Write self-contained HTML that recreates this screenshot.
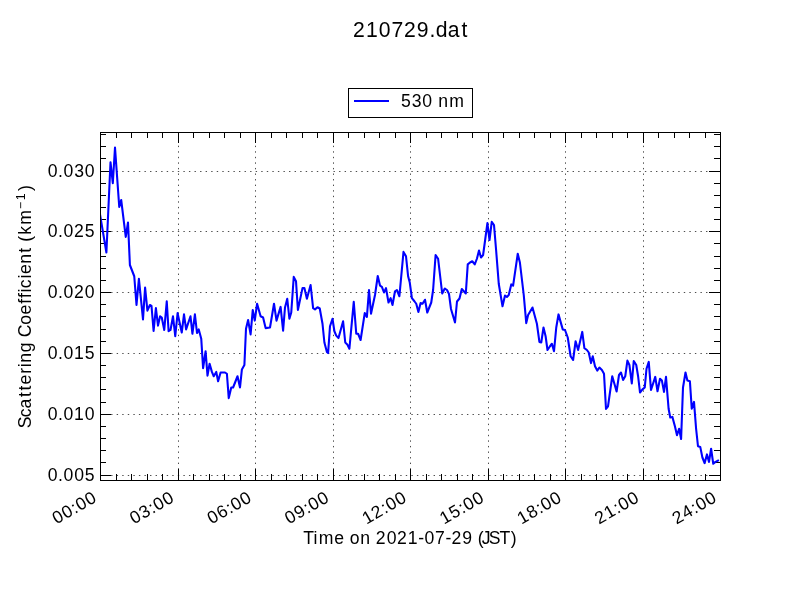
<!DOCTYPE html>
<html><head><meta charset="utf-8"><style>
html,body{margin:0;padding:0;background:#fff;width:800px;height:600px;overflow:hidden}
svg{display:block;will-change:transform}
text{font-family:"Liberation Sans", sans-serif;fill:#000}
</style></head><body>
<svg width="800" height="600" viewBox="0 0 800 600">
<rect x="0" y="0" width="800" height="600" fill="#fff"/>
<defs><clipPath id="ax"><rect x="100" y="132" width="621" height="349"/></clipPath></defs>

<path d="M178.5 480V132 M255.5 480V132 M333.5 480V132 M410.5 480V132 M488.5 480V132 M565.5 480V132 M643.5 480V132" stroke="#000" stroke-width="0.7" stroke-dasharray="1.39 4.17" stroke-dashoffset="0.7" fill="none"/>
<path d="M100 475.5H720 M100 414.5H720 M100 353.5H720 M100 292.5H720 M100 231.5H720 M100 171.5H720" stroke="#000" stroke-width="0.7" stroke-dasharray="1.39 4.17" fill="none"/>
<path d="M100.5 480V469 M100.5 132V143 M178.5 480V469 M178.5 132V143 M255.5 480V469 M255.5 132V143 M333.5 480V469 M333.5 132V143 M410.5 480V469 M410.5 132V143 M488.5 480V469 M488.5 132V143 M565.5 480V469 M565.5 132V143 M643.5 480V469 M643.5 132V143 M720.5 480V469 M720.5 132V143 M116.5 480V474 M116.5 132V138 M131.5 480V474 M131.5 132V138 M147.5 480V474 M147.5 132V138 M162.5 480V474 M162.5 132V138 M193.5 480V474 M193.5 132V138 M209.5 480V474 M209.5 132V138 M224.5 480V474 M224.5 132V138 M240.5 480V474 M240.5 132V138 M271.5 480V474 M271.5 132V138 M286.5 480V474 M286.5 132V138 M302.5 480V474 M302.5 132V138 M317.5 480V474 M317.5 132V138 M348.5 480V474 M348.5 132V138 M364.5 480V474 M364.5 132V138 M379.5 480V474 M379.5 132V138 M395.5 480V474 M395.5 132V138 M426.5 480V474 M426.5 132V138 M441.5 480V474 M441.5 132V138 M457.5 480V474 M457.5 132V138 M472.5 480V474 M472.5 132V138 M503.5 480V474 M503.5 132V138 M519.5 480V474 M519.5 132V138 M534.5 480V474 M534.5 132V138 M550.5 480V474 M550.5 132V138 M581.5 480V474 M581.5 132V138 M596.5 480V474 M596.5 132V138 M612.5 480V474 M612.5 132V138 M627.5 480V474 M627.5 132V138 M658.5 480V474 M658.5 132V138 M674.5 480V474 M674.5 132V138 M689.5 480V474 M689.5 132V138 M705.5 480V474 M705.5 132V138 M100 475.5H111 M720 475.5H709 M100 414.5H111 M720 414.5H709 M100 353.5H111 M720 353.5H709 M100 292.5H111 M720 292.5H709 M100 231.5H111 M720 231.5H709 M100 171.5H111 M720 171.5H709 M100 462.5H106 M720 462.5H714 M100 450.5H106 M720 450.5H714 M100 438.5H106 M720 438.5H714 M100 426.5H106 M720 426.5H714 M100 402.5H106 M720 402.5H714 M100 389.5H106 M720 389.5H714 M100 377.5H106 M720 377.5H714 M100 365.5H106 M720 365.5H714 M100 341.5H106 M720 341.5H714 M100 329.5H106 M720 329.5H714 M100 316.5H106 M720 316.5H714 M100 304.5H106 M720 304.5H714 M100 280.5H106 M720 280.5H714 M100 268.5H106 M720 268.5H714 M100 256.5H106 M720 256.5H714 M100 243.5H106 M720 243.5H714 M100 219.5H106 M720 219.5H714 M100 207.5H106 M720 207.5H714 M100 195.5H106 M720 195.5H714 M100 183.5H106 M720 183.5H714 M100 158.5H106 M720 158.5H714 M100 146.5H106 M720 146.5H714 M100 134.5H106 M720 134.5H714" stroke="#000" stroke-width="1" fill="none"/>
<path d="M100.00 214.40 L106.40 252.50 L110.50 162.20 L112.80 183.20 L115.00 147.60 L119.25 207.00 L121.20 200.00 L125.75 236.90 L128.00 222.50 L129.90 265.00 L134.25 276.25 L136.50 305.00 L138.90 278.75 L143.00 319.40 L145.10 287.50 L147.40 310.60 L149.90 305.00 L151.50 306.00 L153.60 331.00 L155.90 308.10 L158.00 325.60 L160.10 316.25 L161.75 317.50 L164.25 330.00 L166.75 301.25 L168.60 331.25 L170.50 330.00 L173.00 316.25 L175.25 336.25 L177.60 313.10 L181.75 332.50 L184.00 314.40 L186.10 329.40 L190.50 316.25 L192.40 333.75 L194.90 314.40 L197.00 333.00 L198.75 329.40 L201.25 338.75 L203.10 368.10 L205.60 351.25 L207.50 375.60 L209.60 363.75 L211.90 371.90 L213.75 376.25 L216.25 371.90 L218.10 381.25 L220.60 372.50 L225.00 372.50 L226.90 373.75 L228.75 398.10 L231.25 387.50 L233.10 387.50 L237.50 376.25 L240.00 387.50 L241.90 369.40 L244.40 365.00 L246.00 328.75 L248.10 320.00 L250.60 334.40 L252.75 310.00 L254.75 320.60 L257.10 303.75 L260.60 316.25 L263.10 317.50 L265.60 328.10 L270.00 327.50 L274.00 303.75 L276.50 320.60 L280.60 306.90 L283.10 330.60 L285.00 307.50 L287.25 298.75 L289.40 318.75 L291.25 312.50 L293.75 276.90 L296.00 281.25 L297.90 310.00 L302.50 288.10 L304.40 288.10 L306.90 298.75 L310.60 285.00 L313.10 308.10 L315.00 309.40 L317.50 307.25 L319.75 308.50 L322.50 323.75 L324.40 342.50 L326.90 351.90 L328.10 353.10 L330.00 326.25 L332.50 318.75 L334.40 331.25 L336.25 335.60 L338.50 338.10 L343.10 321.25 L345.25 342.50 L347.25 344.40 L349.40 348.75 L353.75 301.90 L356.25 333.75 L358.10 333.75 L360.60 340.00 L364.75 313.10 L366.90 316.90 L369.00 290.00 L371.00 313.75 L375.00 295.00 L377.75 276.00 L380.00 285.60 L381.90 286.90 L384.00 292.50 L386.00 288.10 L388.50 302.50 L390.60 298.10 L392.50 305.00 L395.00 291.25 L396.90 290.00 L399.40 296.25 L403.50 251.90 L406.00 256.25 L408.10 276.25 L409.75 282.50 L411.90 298.10 L414.40 301.25 L416.25 303.75 L418.40 311.90 L420.60 303.10 L422.50 303.75 L425.00 299.75 L427.25 312.50 L431.25 302.50 L433.10 290.00 L435.60 255.00 L438.10 258.75 L442.20 293.50 L444.80 288.50 L447.00 290.00 L449.00 294.00 L451.00 309.00 L455.00 322.50 L457.00 301.50 L459.50 298.50 L461.80 289.00 L465.80 293.50 L467.75 264.40 L470.00 262.50 L472.25 261.25 L474.75 264.40 L476.90 258.75 L479.00 250.60 L481.00 257.50 L483.10 255.00 L485.00 241.00 L487.40 223.10 L489.50 240.00 L491.75 221.90 L494.00 225.00 L496.10 250.00 L498.75 283.75 L502.50 306.25 L505.00 295.60 L506.90 296.90 L508.75 295.00 L511.25 284.40 L513.10 285.60 L517.75 253.75 L519.90 262.50 L523.75 295.00 L526.25 323.10 L528.10 315.00 L532.50 307.50 L536.90 323.75 L539.40 341.90 L541.25 342.50 L543.50 327.50 L545.60 336.25 L547.50 350.00 L550.00 346.25 L551.90 343.75 L554.00 351.25 L556.25 327.50 L558.50 314.40 L560.60 321.90 L562.75 329.40 L565.00 330.00 L567.75 337.50 L570.60 356.25 L573.10 360.00 L575.60 341.25 L578.10 350.00 L582.25 331.90 L584.40 348.10 L586.90 350.00 L588.75 352.50 L591.00 363.10 L592.75 356.25 L595.00 366.25 L597.25 370.60 L599.40 367.50 L601.90 370.00 L604.00 373.75 L606.00 409.00 L608.00 406.30 L612.25 376.25 L616.60 391.50 L619.00 375.00 L621.00 372.50 L623.10 380.00 L625.25 376.25 L627.40 360.60 L629.40 365.00 L631.80 383.40 L633.75 361.00 L636.25 365.00 L638.10 376.25 L640.00 392.50 L642.50 389.40 L644.75 387.50 L646.50 368.75 L648.75 361.90 L651.00 390.00 L655.25 376.90 L657.50 391.25 L660.00 378.75 L661.90 380.60 L664.00 391.90 L666.00 376.90 L668.60 408.75 L670.25 417.50 L672.40 416.90 L674.90 426.25 L677.00 435.30 L679.10 428.75 L681.10 439.00 L683.00 387.50 L685.50 372.50 L687.40 380.60 L689.90 381.25 L691.75 408.75 L694.00 401.90 L696.10 428.75 L698.00 446.25 L700.25 446.90 L702.40 457.50 L704.60 463.10 L707.00 454.40 L709.00 461.90 L711.10 448.75 L713.25 463.75 L715.50 461.90 L718.00 460.60" stroke="#0000ff" stroke-width="2.08" stroke-linejoin="round" stroke-linecap="square" fill="none" clip-path="url(#ax)"/>
<rect x="100.5" y="132.5" width="620.0" height="348.0" stroke="#000" stroke-width="1" fill="none"/>
<text transform="translate(47.30 480.50)" x="0.39 10.80 16.30 26.90 37.44" y="0" font-size="17.63" style="white-space:pre">0.005</text>
<text transform="translate(47.30 419.50)" x="0.39 10.80 16.30 26.81 37.50" y="0" font-size="17.63" style="white-space:pre">0.010</text>
<text transform="translate(47.30 358.50)" x="0.39 10.80 16.30 26.81 37.44" y="0" font-size="17.63" style="white-space:pre">0.015</text>
<text transform="translate(47.30 297.50)" x="0.39 10.80 16.30 26.68 37.50" y="0" font-size="17.63" style="white-space:pre">0.020</text>
<text transform="translate(47.30 236.50)" x="0.39 10.80 16.30 26.68 37.44" y="0" font-size="17.63" style="white-space:pre">0.025</text>
<text transform="translate(47.30 176.50)" x="0.39 10.80 16.30 26.92 37.50" y="0" font-size="17.63" style="white-space:pre">0.030</text>
<text transform="translate(56.30 524.80) rotate(-30)" x="0.39 11.00 21.57 27.22 37.82" y="0" font-size="17.63" style="white-space:pre">00:00</text>
<text transform="translate(133.80 524.80) rotate(-30)" x="0.39 11.02 21.57 27.22 37.82" y="0" font-size="17.63" style="white-space:pre">03:00</text>
<text transform="translate(211.30 524.80) rotate(-30)" x="0.39 11.00 21.57 27.22 37.82" y="0" font-size="17.63" style="white-space:pre">06:00</text>
<text transform="translate(288.80 524.80) rotate(-30)" x="0.39 10.95 21.57 27.22 37.82" y="0" font-size="17.63" style="white-space:pre">09:00</text>
<text transform="translate(366.30 524.80) rotate(-30)" x="0.30 10.78 21.57 27.22 37.82" y="0" font-size="17.63" style="white-space:pre">12:00</text>
<text transform="translate(443.80 524.80) rotate(-30)" x="0.30 10.93 21.57 27.22 37.82" y="0" font-size="17.63" style="white-space:pre">15:00</text>
<text transform="translate(521.30 524.80) rotate(-30)" x="0.30 11.00 21.57 27.22 37.82" y="0" font-size="17.63" style="white-space:pre">18:00</text>
<text transform="translate(598.80 524.80) rotate(-30)" x="0.17 10.91 21.57 27.22 37.82" y="0" font-size="17.63" style="white-space:pre">21:00</text>
<text transform="translate(676.30 524.80) rotate(-30)" x="0.17 11.00 21.57 27.22 37.82" y="0" font-size="17.63" style="white-space:pre">24:00</text>
<text transform="translate(303.55 544.00)" x="-0.29 10.03 15.12 30.79 40.79 46.29 56.70 66.85 72.32 83.14 93.53 104.26 114.63 120.97 131.54 141.85 147.97 158.74 169.01 174.17 178.12 185.22 196.01 207.24" y="0" font-size="17.63" style="white-space:pre">Time on 2021-07-29 (JST)</text>
<text transform="translate(31.00 427.80) rotate(-90)" x="-0.50 10.55 19.32 30.73 37.27 43.28 54.09 60.50 65.18 75.61 85.91 90.56 103.04 113.30 123.99 129.86 135.39 139.63 149.19 153.71 164.12 175.04 180.81 185.97 193.15 203.08" y="0" font-size="17.63" style="white-space:pre">Scattering Coefficient (km</text>
<text transform="translate(24.60 210.24) rotate(-90)" x="1.28 9.99" y="0" font-size="12.34" style="white-space:pre">−1</text>
<text transform="translate(31.00 191.80) rotate(-90)" x="0.76" y="0" font-size="17.63" style="white-space:pre">)</text>
<text transform="translate(352.80 37.10)" x="0.21 13.09 25.92 38.61 51.11 64.03 76.58 83.05 94.89 108.58" y="0" font-size="21.16" style="white-space:pre">210729.dat</text>
<rect x="348.5" y="88.5" width="124" height="29" stroke="#000" stroke-width="1" fill="#fff"/>
<path d="M354 101H389" stroke="#0000ff" stroke-width="2.08" fill="none"/>
<text transform="translate(400.70 107.10)" x="0.33 11.02 21.60 31.81 37.52 48.49" y="0" font-size="17.63" style="white-space:pre">530 nm</text>
</svg></body></html>
